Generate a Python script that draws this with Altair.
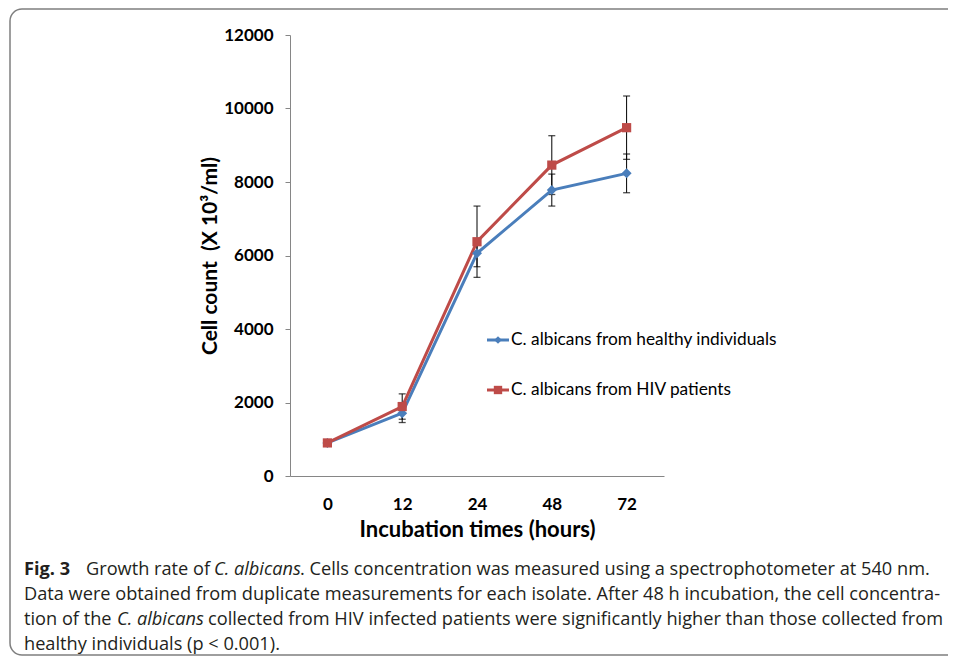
import altair as alt
import pandas as pd

# ---------------- data ----------------
hours = ["0", "12", "24", "48", "72"]
series_names = ["C. albicans from healthy individuals", "C. albicans from HIV patients"]
healthy = [900, 1710, 6060, 7780, 8235]
healthy_err = [30, 255, 365, 435, 527]
hiv = [900, 1890, 6375, 8460, 9478]
hiv_err = [30, 345, 970, 800, 862]

rows = []
for name, vals, errs in [(series_names[0], healthy, healthy_err), (series_names[1], hiv, hiv_err)]:
    for h, v, e in zip(hours, vals, errs):
        rows.append({"hour": h, "series": name, "value": v, "low": v - e, "high": v + e})
df = pd.DataFrame(rows)

BLUE = "#4A7EBB"
RED = "#BE4B48"
AXIS_GRAY = "#868686"
FONT = "Lato"
NBSP = "\u00a0"

x_enc = alt.X("hour:N", sort=hours, scale=alt.Scale(type="point", padding=0.5),
              axis=alt.Axis(title="Incubation times (hours)", labelAngle=0, ticks=False,
                            tickSize=0, labelPadding=20, titlePadding=7, grid=False))
y_scale = alt.Scale(domain=[0, 12000], nice=False)
y_axis = alt.Axis(title="Cell count" + NBSP + NBSP + "(X 10³/ml)",
                  values=[0, 2000, 4000, 6000, 8000, 10000, 12000], format="d",
                  tickSize=5, labelPadding=12, titlePadding=3, titleFontSize=21, grid=False)
color_enc = alt.Color("series:N", scale=alt.Scale(domain=series_names, range=[BLUE, RED]), legend=None)

base = alt.Chart(df)

err_rule = base.mark_rule(color="#000000", strokeWidth=1).encode(
    x=x_enc, y=alt.Y("low:Q", scale=y_scale, axis=y_axis), y2="high:Q")
err_cap_lo = base.mark_tick(color="#000000", size=7, thickness=1.3).encode(
    x=alt.X("hour:N", sort=hours), y=alt.Y("low:Q", scale=y_scale))
err_cap_hi = base.mark_tick(color="#000000", size=7, thickness=1.3).encode(
    x=alt.X("hour:N", sort=hours), y=alt.Y("high:Q", scale=y_scale))

lines = base.mark_line(strokeWidth=3).encode(
    x=alt.X("hour:N", sort=hours), y=alt.Y("value:Q", scale=y_scale),
    color=color_enc, order=alt.Order("series:N"))

pts_h = base.transform_filter(alt.datum.series == series_names[0]).mark_point(
    shape="diamond", filled=True, size=100, opacity=1, color=BLUE).encode(
    x=alt.X("hour:N", sort=hours), y=alt.Y("value:Q", scale=y_scale))
pts_v = base.transform_filter(alt.datum.series == series_names[1]).mark_point(
    shape="square", filled=True, size=85, opacity=1, color=RED).encode(
    x=alt.X("hour:N", sort=hours), y=alt.Y("value:Q", scale=y_scale))

one = alt.InlineData(values=[{"k": 1}])

# custom legend (plot-area pixel coordinates)
legend_layers = []
for name, col, shp, sz, ly in [(series_names[0], BLUE, "diamond", 60, 305),
                                (series_names[1], RED, "square", 70, 355)]:
    legend_layers.append(alt.Chart(one).mark_rule(color=col, strokeWidth=3).encode(
        x=alt.value(197), x2=alt.value(219), y=alt.value(ly)))
    legend_layers.append(alt.Chart(one).mark_point(shape=shp, filled=True, size=sz, opacity=1,
                                                   color=col).encode(
        x=alt.value(208), y=alt.value(ly)))
    legend_layers.append(alt.Chart(one).mark_text(text=name, align="left", baseline="middle",
                                                  font=FONT, fontSize=17.3, color="#000000").encode(
        x=alt.value(221), y=alt.value(ly)))

# frame around the figure
frame = alt.Chart(one).mark_rect(fill=None, fillOpacity=0, stroke="#7f7f7f", strokeWidth=1.5,
                                  cornerRadius=12).encode(
    x=alt.value(-280), x2=alt.value(700), y=alt.value(-26), y2=alt.value(620))

# caption (page coords minus plot origin 290,35)
CAP_FONT = "Open Sans"
CAP_SIZE = 18.2
caption_segments = [
    [("Fig. 3", 24, "bold", "normal"), ("Growth rate of", 86, "normal", "normal"),
     ("C. albicans", 214, "normal", "italic"),
     (". Cells concentration was measured using a spectrophotometer at 540 nm.", 300, "normal", "normal")],
    [("Data were obtained from duplicate measurements for each isolate. After 48 h incubation, the cell concentra-",
      24, "normal", "normal")],
    [("tion of the", 24, "normal", "normal"), ("C. albicans", 117, "normal", "italic"),
     ("collected from HIV infected patients were significantly higher than those collected from", 208, "normal", "normal")],
    [("healthy individuals (p < 0.001).", 24, "normal", "normal")],
]
baselines = [575, 600, 625, 650]
caption_layers = []
for segs, by in zip(caption_segments, baselines):
    for txt, px, wt, st in segs:
        caption_layers.append(alt.Chart(one).mark_text(
            text=txt.replace(" ", NBSP), align="left", baseline="alphabetic", font=CAP_FONT,
            fontSize=CAP_SIZE, fontWeight=wt, fontStyle=st, color="#231f20").encode(
            x=alt.value(px - 290), y=alt.value(by - 35)))

chart = alt.layer(err_rule, err_cap_lo, err_cap_hi, lines, pts_h, pts_v,
                  *legend_layers, frame, *caption_layers).properties(
    width=374, height=441,
    autosize=alt.AutoSizeParams(type="none"),
    padding={"left": 282, "top": 27, "right": 284, "bottom": 180},
).configure_view(stroke=None).configure_axis(
    domainColor=AXIS_GRAY, tickColor=AXIS_GRAY, domainWidth=1, tickWidth=1,
    labelFont=FONT, labelFontSize=17, labelFontWeight="bold", labelColor="#000000",
    titleFont=FONT, titleFontSize=22, titleFontWeight="bold", titleColor="#000000",
)

chart.save("out.html", embed_options={"renderer": "svg", "actions": False})
